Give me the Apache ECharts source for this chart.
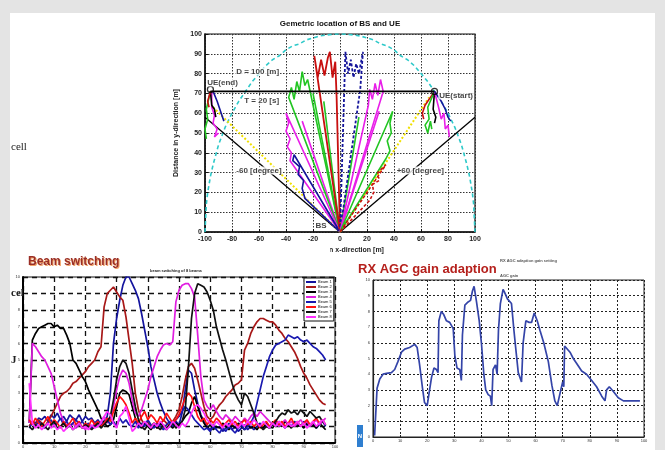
<!DOCTYPE html>
<html><head><meta charset="utf-8">
<script src="https://cdn.jsdelivr.net/npm/echarts@6/dist/echarts.min.js"></script>
<style>html,body{margin:0;padding:0;background:#e4e4e4}#c{width:665px;height:450px}</style>
</head><body><div id="c"></div><script>
// ---------- Top chart: geometric location of BS and UE ----------
const topXTicks = [-100, 100, 20];
const topYTicks = [0, 100, 10];
const circleX = [-100,-99,-98,-96,-94,-92,-90,-85,-80,-75,-70,-65,-60,-55,-50,-45,-40,-35,-30,-25,-20,-15,-10,-5,0,5,10,15,20,25,30,35,40,45,50,55,60,65,70,75,80,85,90,92,94,96,98,99,100];
const circleY = [0,14,20,28,34,39,44,53,60,66,71,76,80,84,87,89,92,94,95,97,98,99,99.5,99.9,100,99.9,99.5,99,98,97,95,94,92,89,87,84,80,76,71,66,60,53,44,39,34,28,20,14,0];
const uePath = [[-96,71],[70,71]];
const edgeLeft = [[0,0],[-100,58]];
const edgeRight = [[0,0],[100,58]];
const yellowLeft = [[0,0],[-94,63]];
const yellowRight = [[0,0],[66,68]];
const beamRedL = [[0,0],[-19,89],[-16.5,78],[-14,87],[-11.5,79],[-9,88],[-7.5,91],[-5.5,78],[-3.5,86],[-2.5,68],[0,0]];
const beamNavyC = [[0,0],[4,91],[6,80],[8,87],[10,78],[12,85],[14,80],[17,91],[15,72],[0,0]];
const beamGreenL = [[0,0],[-38,68],[-36,73],[-34,67],[-32,76],[-30,71],[-28,81],[-26,74],[-24,77],[0,0]];
const beamMagL = [[0,0],[-40,60],[-38,55],[-40,51],[-37,47],[-39,43],[-36,40],[-37,36],[0,0]];
const beamBlueL = [[0,0],[-26,17],[-28,22],[-27,26],[-31,29],[-30,33],[-35,36],[-34,39],[0,0]];
const beamMagR = [[0,0],[21,64],[22,72],[24,67],[26,75],[28,69],[30,77],[32,71],[0,0]];
const beamGreenR = [[0,0],[39,61],[37,55],[38,50],[35,46],[37,41],[34,37],[0,0]];
const beamRedR = [[0,0],[22,16],[25,20],[24,24],[29,26],[28,30],[34,34],[0,0]];
const fanGreen = [[0,0],[-20,70]];
const fanMag = [[0,0],[-28,56]];
const fanGreen2 = [[0,0],[-12,66]];
const fanMag2 = [[0,0],[29,61]];
const fanGreen3 = [[0,0],[14,58]];
const ueEndGreen = [[-96,71],[-99,62],[-98,57],[-100,52],[-99,47]];
const ueEndMag = [[-95,71],[-95,63],[-93,59],[-94,55],[-91,52],[-93,48],[-90,50]];
const ueEndBlue = [[-94,71],[-91,66],[-89,62],[-87,58],[-86,56]];
const ueEndBlack = [[-96,71],[-95,64],[-93,62],[-92,58]];
const ueEndRed = [[-96,71],[-98,66],[-97,63]];
const ueStRed = [[70,71],[63,64],[61,60],[62,57]];
const ueStGreen = [[70,71],[65,63],[66,57],[63,54],[65,50],[67,56],[68,52]];
const ueStBlack = [[70,71],[69,62],[71,58],[70,55]];
const ueStMag = [[70,71],[73,63],[75,57],[77,60],[78,52],[80,54],[81,48]];
const ueStBlue = [[70,71],[75,66],[78,62],[80,58],[82,56]];
const ueMarks = [[-96,72],[70,71]];
const topNotes = [[-61,81,'D = 100 [m]'],[-87,75.5,'UE(end)'],[-58,66.5,'T = 20 [s]'],[-60,31,'-60 [degree]'],[59.5,31,'+60 [degree]'],[86,69,'UE(start)'],[-14,3,'BS']];

// ---------- Bottom-left chart: beam switching ----------
const bsStartX = 2;
const bsNames = ['Beam 1','Beam 2','Beam 3','Beam 4','Beam 5','Beam 6','Beam 7','Beam 8'];
const bsBeam1 = [1.0,1.3,1.2,1.5,1.4,1.6,1.3,1.7,1.5,1.8,1.4,1.6,1.3,1.7,1.5,1.4,1.7,1.3,1.6,1.4,1.5,1.2,1.4,1.1,1.3,1.6,
 3.0,6.0,7.5,8.6,9.5,10.0,10.0,9.6,9.2,8.7,7.8,6.8,5.8,4.6,3.8,3.0,2.4,1.9,1.5,1.2,1.0,1.3,1.1,
 1.8,3.2,4.4,4.2,3.2,2.4,1.7,1.3,1.0,0.8,1.1,0.9,1.0,0.7,0.9,1.2,0.8,1.0,0.7,0.9,1.1,0.8,1.0,
 0.8,1.0,1.2,0.9,1.1,0.9,1.2,1.0,1.3,1.1,0.9,1.2,1.0,1.3,1.1,1.0,1.3,1.1,1.0,1.2,0.9,1.1,1.3,1.0];
const bsBeam2 = [1.0,1.3,1.1,1.4,1.2,1.0,1.3,1.6,2.0,2.4,2.8,3.0,3.1,3.3,3.6,3.7,3.9,4.1,4.3,4.6,4.8,5.0,5.5,5.8,8.2,9.0,
 9.2,9.4,9.1,8.8,8.6,7.6,6.2,4.8,3.0,2.0,1.4,1.1,1.3,1.0,1.2,0.9,1.1,1.4,1.2,1.0,1.3,1.6,2.0,
 2.8,3.8,4.6,4.8,4.5,3.8,3.0,2.2,1.6,1.4,1.6,2.0,2.3,2.5,2.8,3.0,3.2,3.5,3.6,3.8,5.6,6.0,6.6,
 7.0,7.3,7.5,7.5,7.4,7.3,7.3,7.1,6.8,6.6,6.3,6.1,5.8,5.5,5.1,4.6,4.2,3.9,3.5,3.2,2.9,2.6,2.4,2.3];
const bsBeam3 = [1.2,6.2,6.6,6.9,7.0,7.1,7.2,7.2,7.0,7.1,6.9,6.9,6.5,6.0,5.0,4.8,4.4,4.0,3.7,3.2,2.8,2.4,2.0,1.5,1.2,1.0,
 1.1,1.4,2.2,3.0,3.2,3.1,2.9,2.2,1.5,1.1,0.9,1.2,1.0,0.8,1.1,0.9,1.2,1.0,0.8,1.1,0.9,1.2,1.0,
 1.3,1.6,1.8,2.4,2.8,2.2,1.6,1.2,0.9,1.1,0.8,1.0,0.9,1.2,1.0,0.8,1.1,0.9,1.2,1.0,0.8,1.1,0.9,
 1.0,0.8,1.1,0.9,1.2,1.0,0.9,1.2,1.1,1.0,1.3,1.1,0.9,1.2,1.0,1.1,0.9,1.2,1.0,1.1,0.9,1.2,1.0,0.8];
const bsBeam4 = [1.2,6.0,5.8,5.5,5.2,5.0,4.6,4.2,3.4,2.6,1.8,1.3,1.1,1.0,1.2,0.9,1.1,1.0,0.8,1.1,0.9,1.2,1.0,1.3,1.6,1.2,
 1.5,2.2,3.2,4.0,4.4,4.2,3.6,2.6,1.8,1.6,2.0,2.6,3.2,4.0,4.6,5.2,5.6,5.9,6.0,5.9,6.1,8.5,9.2,
 9.5,9.6,9.6,9.3,8.8,6.5,4.0,2.6,2.2,2.0,2.3,1.9,1.6,1.4,1.7,1.5,1.3,1.6,1.4,1.2,1.5,1.3,1.6,
 1.8,1.6,1.9,1.7,1.5,1.3,1.1,1.3,1.0,1.2,1.4,1.1,1.3,1.0,1.2,1.4,1.1,1.3,1.0,1.2,1.4,1.1,1.3,1.5];
const bsBeam5 = [0.9,1.2,1.0,1.3,1.1,0.9,1.2,1.4,1.0,1.2,1.5,1.1,1.3,1.0,1.2,1.4,1.1,1.3,1.0,1.2,0.9,1.1,1.3,1.0,1.2,1.4,
 1.1,1.3,1.0,1.5,1.2,1.4,1.1,1.0,1.3,0.9,1.2,1.0,1.4,1.1,0.9,1.2,1.0,0.8,1.1,1.3,1.0,1.4,1.6,
 1.9,2.2,2.0,1.7,1.4,1.2,1.0,0.8,0.9,0.7,1.0,0.8,0.6,0.9,0.7,1.0,0.8,0.6,0.9,1.1,0.8,1.0,1.2,
 1.6,2.4,3.2,4.0,4.6,5.2,5.6,5.9,6.0,6.1,6.2,6.5,6.4,6.3,6.4,6.2,6.1,6.2,6.0,5.8,5.7,5.5,5.3,5.0];
const bsBeam6 = [1.4,1.1,1.5,1.2,1.0,1.3,1.6,1.1,1.4,1.2,0.9,1.3,1.0,1.2,1.5,1.1,1.3,0.9,1.2,1.0,1.4,1.1,1.3,1.0,1.2,1.5,
 1.3,1.9,2.4,2.8,2.6,2.3,1.8,1.2,1.5,1.2,1.6,1.9,1.4,1.7,1.5,1.2,1.6,1.3,1.8,1.5,1.2,1.4,1.7,
 2.2,2.7,3.0,2.8,2.2,1.6,1.3,1.5,1.1,1.4,1.2,1.5,1.3,1.0,1.2,1.4,1.1,1.3,1.0,1.2,1.4,1.1,1.3,
 1.0,1.2,0.9,1.1,1.3,1.0,1.2,1.4,1.1,1.3,1.0,1.2,1.5,1.1,1.3,1.0,1.2,1.4,1.1,1.3,1.5,1.2,1.4,1.1];
const bsBeam7 = [1.0,0.8,1.1,0.9,1.2,1.0,0.8,1.1,1.3,0.9,1.0,1.2,0.9,1.1,0.8,1.0,1.2,0.9,1.1,1.0,0.8,1.0,1.2,0.9,1.1,1.3,
 1.6,2.6,3.8,4.6,5.0,4.8,4.2,3.2,2.2,1.4,1.0,0.8,1.1,0.9,1.2,1.0,0.8,1.1,0.9,1.0,1.2,0.9,1.1,
 1.3,2.0,4.5,7.5,9.0,9.6,9.5,9.4,9.1,8.6,8.0,7.0,6.3,5.6,5.0,4.3,3.6,3.0,2.6,2.3,3.0,2.8,2.3,
 1.8,1.2,1.0,0.8,1.0,0.9,1.1,1.3,1.6,1.8,1.7,2.0,1.8,1.9,1.7,2.0,1.8,1.6,1.9,1.7,1.5,1.6,1.3,1.1];
const bsBeam8 = [3.6,1.2,0.9,1.1,0.8,1.0,1.2,0.9,1.1,0.8,1.0,0.7,0.9,1.1,0.8,1.0,1.2,0.9,1.0,0.8,1.1,0.9,1.0,1.2,1.6,1.9,
 1.7,1.2,0.9,1.6,1.8,2.2,1.5,0.7,0.9,1.2,1.0,1.3,1.1,0.9,1.2,1.0,1.3,1.1,0.8,1.0,1.3,1.1,0.9,
 1.2,1.0,1.3,1.8,2.2,2.3,2.1,1.8,1.4,1.2,1.0,1.3,1.1,0.9,1.2,1.0,1.3,1.1,0.9,1.2,1.0,1.3,1.1,
 1.4,1.2,1.0,1.3,1.1,0.9,1.2,1.0,1.3,1.1,0.9,1.2,1.0,1.1,1.3,1.0,1.2,0.9,1.1,1.3,1.0,1.2,1.4,1.1];
const bsColors = ['#14149e','#a81818','#000000','#e01ee0','#1a1ab0','#ff1010','#111111','#ff30ff'];

// ---------- Bottom-right chart: RX AGC gain adaption ----------
const rxX = [0.6,1.5,2.5,3.7,5,6.8,8,9.2,10.5,11.7,13.5,15.4,16.3,17.2,18.2,19,20,20.7,21.6,22.5,23.4,24,24.3,25.2,26.1,27.1,28.3,29.6,30.2,31,32,32.6,33,33.9,35.1,36,36.7,37.3,38.2,39.2,40,40.9,41.6,42.5,43.3,43.8,44.3,45.2,45.8,46.3,47,48,48.6,49.6,51.1,52,52.7,53.6,54.8,55.2,55.4,56.4,57.6,58.5,59.5,60.6,61.6,63,64.7,66,67.1,68,68.7,69.3,70,70.4,70.7,71.4,72.7,73.9,75.1,77,78.8,80.7,82.5,84.4,85.6,86.2,87.2,88.7,90.5,92.4,94.8,98.5];
const rxY = [0.1,3.1,3.7,4.0,4.05,4.1,4.3,4.8,5.4,5.6,5.7,5.9,5.7,4.6,3.2,2.2,2.0,2.8,3.8,4.4,4.3,4.1,7.4,8.0,7.8,7.4,7.3,6.9,5.2,4.4,4.3,3.6,6.5,8.4,8.6,8.7,9.3,9.6,8.6,7.4,6.0,4.0,3.0,2.7,2.6,2.0,4.3,4.6,4.0,6.8,8.5,9.4,9.2,8.8,8.5,6.8,5.6,4.1,3.5,3.4,6.0,7.4,7.3,7.3,7.9,7.4,6.8,6.0,4.8,3.3,2.3,2.0,2.1,3.0,3.5,3.2,5.8,5.7,5.4,5.0,4.7,4.2,4.0,3.6,3.2,2.6,2.3,3.0,3.2,2.9,2.5,2.3,2.3,2.3];

// ---------- build ----------
const FONT = '"Liberation Sans", Arial, sans-serif';
const RED='#c81010', GREEN='#22c522', MAG='#e81ee8', NAVY='#14149a', BLACK='#000', YEL='#f0e000', CYAN='#2ec9c9';
function topLine(pts, color, type, width) {
  return {type:'line', xAxisIndex:0, yAxisIndex:0, data:pts, symbol:'none', silent:true, animation:false, z:3,
    lineStyle:{color:color, width:width||1.6, type:type||'solid'}};
}
const series = [];
series.push(topLine(circleX.map((x,i)=>[x,circleY[i]]), CYAN, [4,3], 1.6));
series.push(topLine(edgeLeft, BLACK, 'solid', 1.3));
series.push(topLine(edgeRight, BLACK, 'solid', 1.3));
series.push(topLine(yellowLeft, YEL, [2,2], 2));
series.push(topLine(yellowRight, YEL, [2,2], 2));
series.push(topLine(fanGreen, GREEN));
series.push(topLine(fanMag, MAG));
series.push(topLine(fanGreen2, GREEN));
series.push(topLine(fanMag2, MAG));
series.push(topLine(fanGreen3, GREEN));
series.push(topLine(beamGreenL, GREEN));
series.push(topLine(beamMagL, MAG));
series.push(topLine(beamBlueL, NAVY));
series.push(topLine(beamRedL, RED, 'solid', 1.8));
series.push(topLine(beamNavyC, NAVY, [3,2], 1.8));
series.push(topLine(beamMagR, MAG));
series.push(topLine(beamGreenR, GREEN));
series.push(topLine(beamRedR, RED, [3,2], 1.6));
series.push(topLine(ueEndGreen, GREEN));
series.push(topLine(ueEndMag, MAG));
series.push(topLine(ueEndBlue, NAVY));
series.push(topLine(ueEndBlack, BLACK));
series.push(topLine(ueEndRed, RED));
series.push(topLine(ueStRed, RED));
series.push(topLine(ueStGreen, GREEN));
series.push(topLine(ueStBlack, BLACK));
series.push(topLine(ueStMag, MAG));
series.push(topLine(ueStBlue, NAVY));
series.push(topLine(uePath, BLACK, 'solid', 1.6));
series.push({type:'scatter', xAxisIndex:0, yAxisIndex:0, data:ueMarks, symbol:'circle', symbolSize:6, z:5, silent:true, animation:false,
  itemStyle:{color:'rgba(0,0,0,0)', borderColor:'#000', borderWidth:1.3}});
series.push({type:'scatter', xAxisIndex:0, yAxisIndex:0, symbolSize:0, z:6, silent:true, animation:false,
  data: topNotes.map(n=>({value:[n[0],n[1]], name:n[2]})),
  label:{show:true, position:'inside', formatter:'{b}', fontFamily:FONT, fontSize:8, fontWeight:'bold', color:'#111',
    backgroundColor:'#fff', padding:[0,1]}});
const bsAll = [bsBeam1,bsBeam2,bsBeam3,bsBeam4,bsBeam5,bsBeam6,bsBeam7,bsBeam8];
bsAll.forEach((arr,k)=>{
  series.push({type:'line', name:bsNames[k], xAxisIndex:1, yAxisIndex:1, symbol:'none', silent:true, animation:false, z:3,
    data: arr.map((v,i)=>[bsStartX+i, v]), color:bsColors[k], lineStyle:{color:bsColors[k], width:1.7}});
});
series.push({type:'line', xAxisIndex:2, yAxisIndex:2, symbol:'none', silent:true, animation:false,
  data: rxX.map((x,i)=>[x, rxY[i]]), lineStyle:{color:'#3444a8', width:1.7}});

const tinyLabel = {fontSize:4, color:'#333', fontFamily:FONT, margin:2};
const option = {
  backgroundColor:'#e4e4e4',
  animation:false,
  grid:[
    {left:205, top:34, width:270, height:198, show:true, borderColor:'#111', borderWidth:1.2, backgroundColor:'rgba(0,0,0,0)'},
    {left:23, top:277, width:312, height:166, show:true, borderColor:'#111', borderWidth:1, backgroundColor:'#fff'},
    {left:373, top:280, width:271, height:157, show:true, borderColor:'#222', borderWidth:1, backgroundColor:'#fff'}
  ],
  legend:{data:bsNames, orient:'vertical', left:304, top:278, itemWidth:10, itemHeight:2, itemGap:1, icon:'rect',
    textStyle:{fontSize:4, color:'#111', fontFamily:FONT, padding:[0,0,0,-3]}, backgroundColor:'#fff', borderColor:'#111', borderWidth:1, padding:[2,2,2,2], selectedMode:false},
  xAxis:[
    {gridIndex:0, type:'value', min:topXTicks[0], max:topXTicks[1], interval:topXTicks[2],
      name:'Distance in x-direction [m]', nameLocation:'middle', nameGap:15,
      nameTextStyle:{fontSize:7, fontWeight:'bold', color:'#222', fontFamily:FONT},
      axisLine:{onZero:false, lineStyle:{color:'#111', width:1.5}}, axisTick:{inside:true, length:3, lineStyle:{color:'#111'}},
      axisLabel:{fontSize:7, fontWeight:'bold', color:'#222', fontFamily:FONT, margin:4},
      splitLine:{show:true, lineStyle:{color:'#333', type:[1.5,1.5], width:1}}},
    {gridIndex:1, type:'value', min:0, max:100, interval:10,
      axisLine:{onZero:false, lineStyle:{color:'#000', width:2}}, axisTick:{show:false},
      axisLabel:tinyLabel, splitLine:{show:true, lineStyle:{color:'#111', type:[5,4], width:1.3}}},
    {gridIndex:2, type:'value', min:0, max:100, interval:10,
      axisLine:{onZero:false, lineStyle:{color:'#222', width:1.2}}, axisTick:{inside:true, length:2},
      axisLabel:tinyLabel, splitLine:{show:true, lineStyle:{color:'#222', type:[2,2], width:1}}}
  ],
  yAxis:[
    {gridIndex:0, type:'value', min:topYTicks[0], max:topYTicks[1], interval:topYTicks[2],
      name:'Distance in y-direction [m]', nameLocation:'middle', nameGap:25,
      nameTextStyle:{fontSize:7, fontWeight:'bold', color:'#222', fontFamily:FONT},
      axisLine:{onZero:false, lineStyle:{color:'#111', width:1.5}}, axisTick:{inside:true, length:3, lineStyle:{color:'#111'}},
      axisLabel:{fontSize:7, fontWeight:'bold', color:'#222', fontFamily:FONT, margin:3},
      splitLine:{show:true, lineStyle:{color:'#333', type:[1.5,1.5], width:1}}},
    {gridIndex:1, type:'value', min:0, max:10, interval:1,
      axisLine:{onZero:false, lineStyle:{color:'#000', width:2}}, axisTick:{show:false},
      axisLabel:Object.assign({}, tinyLabel, {margin:3}), splitLine:{show:true, lineStyle:{color:'#111', type:[5,4], width:1.3}}},
    {gridIndex:2, type:'value', min:0, max:10, interval:1,
      axisLine:{onZero:false, lineStyle:{color:'#222', width:1.2}}, axisTick:{inside:true, length:2},
      axisLabel:Object.assign({}, tinyLabel, {margin:3}), splitLine:{show:true, lineStyle:{color:'#222', type:[2,2], width:1}}}
  ],
  graphic:[
    {type:'rect', z:-10, silent:true, shape:{x:10, y:13, width:645, height:437}, style:{fill:'#ffffff'}},
    {type:'rect', z:10, silent:true, shape:{x:12, y:244, width:318, height:9}, style:{fill:'#ffffff'}},
    {type:'text', z:10, x:340, y:24, style:{text:'Gemetric location of BS and UE', font:'bold 8px '+FONT, fill:'#111', textAlign:'center', textVerticalAlign:'middle', align:'center', verticalAlign:'middle'}},
    {type:'text', z:10, x:29, y:263, style:{text:'Beam switching', font:'bold 12px '+FONT, fill:'#f2a56a', textVerticalAlign:'middle', verticalAlign:'middle'}},
    {type:'text', z:11, x:28, y:262, style:{text:'Beam switching', font:'bold 12px '+FONT, fill:'#9a2e26', textVerticalAlign:'middle', verticalAlign:'middle'}},
    {type:'text', z:10, x:150, y:271, style:{text:'beam switching of 8 beams', font:'bold 4px '+FONT, fill:'#222', textVerticalAlign:'middle', verticalAlign:'middle'}},
    {type:'text', z:10, x:358, y:269, style:{text:'RX AGC gain adaption', font:'bold 13px '+FONT, fill:'#b5201c', textVerticalAlign:'middle', verticalAlign:'middle'}},
    {type:'text', z:10, x:500, y:261, style:{text:'RX AGC adaption gain setting', font:'bold 4px '+FONT, fill:'#555', textVerticalAlign:'middle', verticalAlign:'middle'}},
    {type:'text', z:10, x:500, y:276, style:{text:'AGC gain', font:'bold 4px '+FONT, fill:'#555', textVerticalAlign:'middle', verticalAlign:'middle'}},
    {type:'text', z:10, x:11, y:147, style:{text:'cell', font:'11px "Liberation Serif", serif', fill:'#222', textVerticalAlign:'middle', verticalAlign:'middle'}},
    {type:'text', z:10, x:11, y:293, style:{text:'cel', font:'bold 11px "Liberation Serif", serif', fill:'#222', textVerticalAlign:'middle', verticalAlign:'middle'}},
    {type:'text', z:10, x:11, y:360, style:{text:'J', font:'bold 11px "Liberation Serif", serif', fill:'#222', textVerticalAlign:'middle', verticalAlign:'middle'}},
    {type:'rect', z:10, silent:true, shape:{x:357, y:425, width:6, height:22}, style:{fill:'#2f7fd0'}},
    {type:'text', z:11, x:360, y:436, style:{text:'N', font:'bold 6px '+FONT, fill:'#fff', textAlign:'center', textVerticalAlign:'middle', align:'center', verticalAlign:'middle'}}
  ],
  series: series
};
const chart = echarts.init(document.getElementById('c'), null, {renderer:'canvas'});
chart.setOption(option);
</script></body></html>
